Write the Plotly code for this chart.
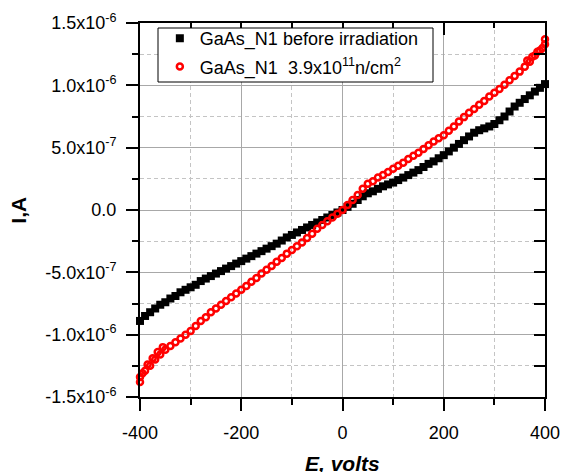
import plotly.graph_objects as go

# Voltage sweep (V)
voltage = list(range(-400, 401, 10))

# Current before irradiation (A, in units of 1e-6)
before_uA = [
    -0.89, -0.85, -0.82, -0.79, -0.76, -0.74, -0.71, -0.69, -0.66, -0.64,
    -0.62, -0.60, -0.57, -0.55, -0.53, -0.51, -0.49, -0.47, -0.45, -0.43,
    -0.41, -0.39, -0.37, -0.35, -0.33, -0.31, -0.29, -0.27, -0.245, -0.22,
    -0.20, -0.18, -0.16, -0.14, -0.12, -0.10, -0.08, -0.06, -0.04, -0.02,
    0.00, 0.025, 0.05, 0.08, 0.11, 0.134, 0.15, 0.17, 0.19, 0.205,
    0.22, 0.24, 0.26, 0.28, 0.30, 0.32, 0.345, 0.37, 0.39, 0.415,
    0.44, 0.47, 0.50, 0.53, 0.56, 0.59, 0.62, 0.64, 0.655, 0.67,
    0.69, 0.72, 0.75, 0.79, 0.83, 0.86, 0.89, 0.92, 0.95, 0.98, 1.01,
]

# Current after 3.9e11 n/cm^2 (A, in units of 1e-6)
after_uA = [
    -1.34, -1.29, -1.25, -1.20, -1.16, -1.12, -1.09, -1.06, -1.03, -1.00,
    -0.97, -0.93, -0.89, -0.86, -0.82, -0.79, -0.76, -0.73, -0.70, -0.67,
    -0.64, -0.61, -0.575, -0.545, -0.51, -0.48, -0.45, -0.415, -0.385, -0.35,
    -0.32, -0.29, -0.26, -0.225, -0.19, -0.15, -0.12, -0.09, -0.06, -0.03,
    0.00, 0.04, 0.08, 0.12, 0.17, 0.21, 0.23, 0.26, 0.28, 0.305,
    0.33, 0.355, 0.38, 0.41, 0.435, 0.46, 0.49, 0.52, 0.55, 0.575,
    0.60, 0.635, 0.67, 0.71, 0.745, 0.78, 0.81, 0.845, 0.875, 0.91,
    0.94, 0.97, 1.005, 1.04, 1.075, 1.11, 1.15, 1.19, 1.24, 1.28, 1.33,
]
# extra repeated readings near the sweep ends
after_extra_v = [-400, -395, -385, -375, -365, -355, 365, 375, 385, 395, 400]
after_extra_uA = [-1.38, -1.31, -1.24, -1.19, -1.14, -1.10, 1.20, 1.23, 1.27, 1.30, 1.37]

y_tickvals = [-1.5e-6, -1.0e-6, -0.5e-6, 0.0, 0.5e-6, 1.0e-6, 1.5e-6]
y_ticktext = ["-1.5x10<sup>-6</sup>", "-1.0x10<sup>-6</sup>", "-5.0x10<sup>-7</sup>", "0.0",
              "5.0x10<sup>-7</sup>", "1.0x10<sup>-6</sup>", "1.5x10<sup>-6</sup>"]
y_minorvals = [-1.25e-6, -0.75e-6, -0.25e-6, 0.25e-6, 0.75e-6, 1.25e-6]
x_tickvals = [-400, -200, 0, 200, 400]
x_ticktext = ["-400", "-200", "0", "200", "400"]
x_minorvals = [-300, -100, 100, 300]

label_before = "GaAs_N1 before irradiation"
label_after = "GaAs_N1&nbsp; 3.9x10<sup>11</sup>n/cm<sup>2</sup>"

before_A = [v * 1e-6 for v in before_uA]
after_v = voltage + after_extra_v
after_A = [v * 1e-6 for v in after_uA + after_extra_uA]

FONT = "Liberation Sans, Arial, sans-serif"

fig = go.Figure()
fig.add_trace(go.Scatter(
    x=voltage, y=before_A, mode="markers", name=label_before, legendgroup="a",
    marker=dict(symbol="square", size=8, color="black"),
    cliponaxis=False,
))
fig.add_trace(go.Scatter(
    x=after_v, y=after_A, mode="markers", name=label_after, legendgroup="b",
    marker=dict(symbol="circle-open", size=6, color="#ff0000", line=dict(width=2.5, color="#ff0000")),
    cliponaxis=False,
))
# invisible copy to activate the mirrored (top/right) axes
fig.add_trace(go.Scatter(
    x=voltage, y=before_A, mode="markers", xaxis="x2", yaxis="y2",
    marker=dict(opacity=0), showlegend=False, hoverinfo="skip",
))

gridmajor = "#a8a8a8"
gridminor = "#c4c4c4"
minordash = "4px,3px"

fig.update_layout(
    width=561, height=472,
    margin=dict(l=140, r=16, t=23, b=75, autoexpand=False),
    paper_bgcolor="white", plot_bgcolor="white",
    font=dict(family=FONT, size=18, color="black"),
    showlegend=True,
    legend=dict(
        x=0.049, y=1.008, xanchor="left", yanchor="top",
        bgcolor="rgba(0,0,0,0)", borderwidth=0,
        font=dict(family=FONT, size=18, color="black"),
        tracegroupgap=2, itemwidth=30,
    ),
    shapes=[
        dict(type="rect", xref="paper", yref="paper", layer="above",
             x0=(158 - 140) / 405, x1=(433 - 140) / 405,
             y0=(397 - 82) / 374, y1=(397 - 28) / 374,
             line=dict(color="black", width=1), fillcolor="white"),
    ],
    xaxis=dict(
        range=[-400, 400], tickmode="array", tickvals=x_tickvals, ticktext=x_ticktext,
        ticks="outside", ticklen=12, tickwidth=2, tickcolor="black",
        showline=True, linewidth=2, linecolor="black",
        showgrid=True, gridcolor=gridmajor, gridwidth=1,
        zeroline=False, automargin=False,
        minor=dict(tickmode="array", tickvals=x_minorvals, ticks="outside", ticklen=6,
                   tickwidth=2, tickcolor="black", showgrid=True, gridcolor=gridminor,
                   griddash=minordash, gridwidth=1),
        tickfont=dict(family=FONT, size=18),
        ticklabelstandoff=6,
    ),
    yaxis=dict(
        range=[-1.5e-6, 1.5e-6], tickmode="array", tickvals=y_tickvals, ticktext=y_ticktext,
        ticks="outside", ticklen=12, tickwidth=2, tickcolor="black",
        showline=True, linewidth=2, linecolor="black",
        showgrid=True, gridcolor=gridmajor, gridwidth=1,
        zeroline=False, automargin=False,
        minor=dict(tickmode="array", tickvals=y_minorvals, ticks="outside", ticklen=6,
                   tickwidth=2, tickcolor="black", showgrid=True, gridcolor=gridminor,
                   griddash=minordash, gridwidth=1),
        tickfont=dict(family=FONT, size=18),
        ticklabelstandoff=6,
    ),
    xaxis2=dict(
        overlaying="x", side="top", anchor="y", range=[-400, 400],
        tickmode="array", tickvals=x_tickvals, showticklabels=False,
        ticks="inside", ticklen=12, tickwidth=2, tickcolor="black",
        showline=True, linewidth=2, linecolor="black", showgrid=False, zeroline=False,
        automargin=False,
        minor=dict(tickmode="array", tickvals=x_minorvals, ticks="inside", ticklen=5,
                   tickwidth=2, tickcolor="black", showgrid=False),
    ),
    yaxis2=dict(
        overlaying="y", side="right", anchor="x", range=[-1.5e-6, 1.5e-6],
        tickmode="array", tickvals=y_tickvals, showticklabels=False,
        ticks="inside", ticklen=11, tickwidth=2, tickcolor="black",
        showline=True, linewidth=2, linecolor="black", showgrid=False, zeroline=False,
        automargin=False,
        minor=dict(tickmode="array", tickvals=y_minorvals, ticks="inside", ticklen=11,
                   tickwidth=2, tickcolor="black", showgrid=False),
    ),
    annotations=[
        dict(text="<b>I,A</b>", xref="paper", yref="paper", x=-0.302, y=0.5,
             xanchor="center", yanchor="middle", textangle=-90, showarrow=False,
             font=dict(family=FONT, size=21, color="black")),
        dict(text="<b><i>E, volts</i></b>", xref="paper", yref="paper", x=0.5, y=-0.178,
             xanchor="center", yanchor="middle", showarrow=False,
             font=dict(family=FONT, size=21, color="black")),
    ],
)

fig.write_html(
    "out.html",
    config={"displayModeBar": False},
    post_script="document.body.style.margin='0';document.body.style.padding='0';",
)
